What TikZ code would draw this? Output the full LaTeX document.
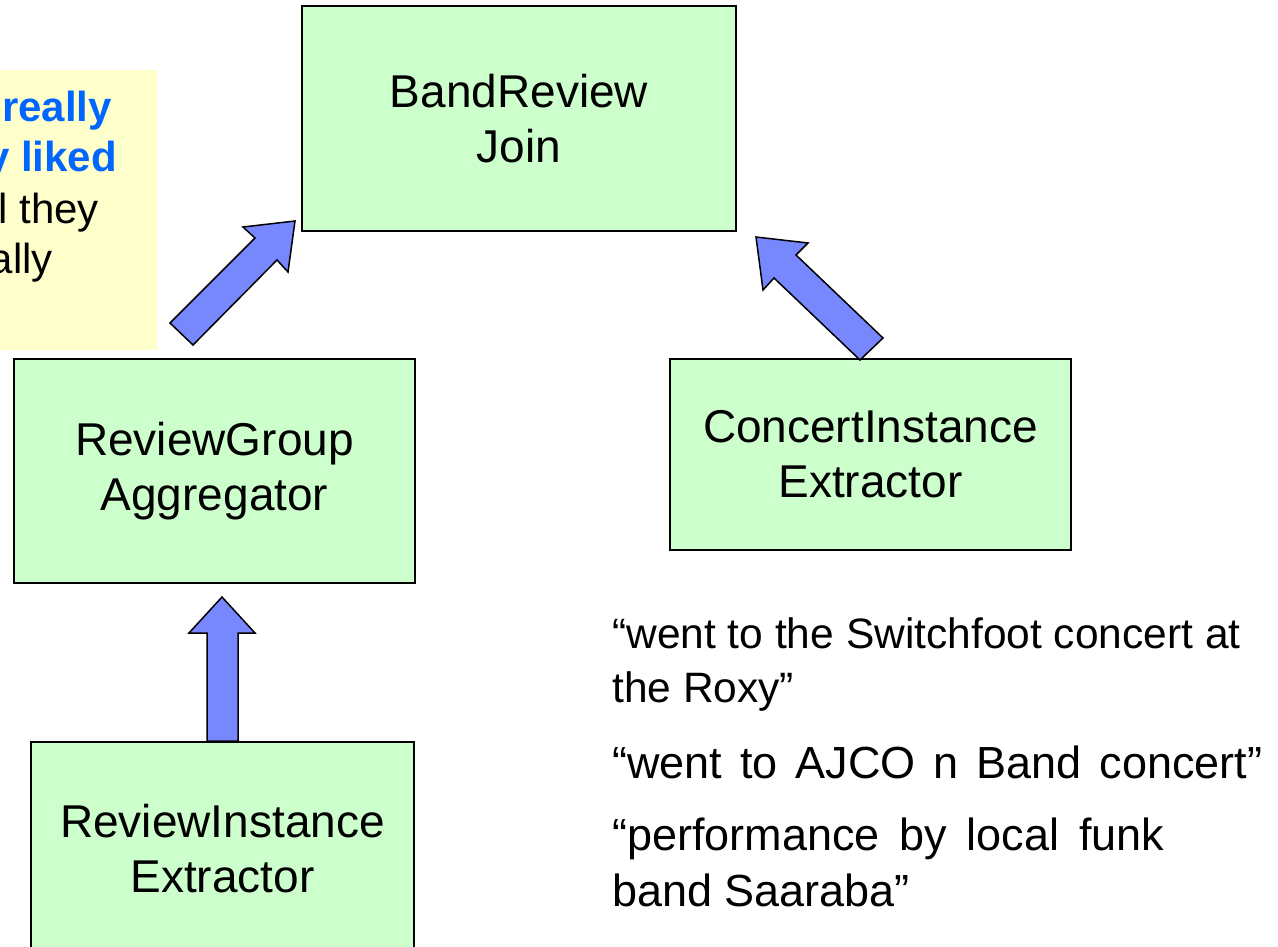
\documentclass[tikz,border=0pt]{standalone}
\usepackage{fontspec}
\setmainfont{Liberation Sans}
\definecolor{boxgreen}{HTML}{CCFFCC}
\definecolor{notey}{HTML}{FFFFCC}
\definecolor{arrowblue}{HTML}{7788FF}
\definecolor{textblue}{HTML}{0066FF}
\begin{document}
\begin{tikzpicture}[x=1pt,y=-1pt,
  box/.style={draw=black,line width=2pt,fill=boxgreen,anchor=north west,align=center,
    font=\fontsize{46}{55}\selectfont,inner sep=0pt},
  blockarrow/.style={draw=black,line width=1.5pt,fill=arrowblue,line join=miter},
  notebold/.style={anchor=base east,font=\bfseries\fontsize{42}{50}\selectfont,text=textblue,inner sep=0pt},
  noteplain/.style={anchor=base east,font=\fontsize{42}{50}\selectfont,inner sep=0pt},
  quote/.style={anchor=base west,font=\fontsize{42.5}{54}\selectfont,inner sep=0pt},
  quotebig/.style={anchor=base west,font=\fontsize{45}{56}\selectfont,inner sep=0pt}]
\useasboundingbox (0,0) rectangle (1278,947);
% note box
\begin{scope}
\clip (0,70) rectangle (157,350);
\fill[notey] (0,70) rectangle (157,350);
\node[notebold] (n1) at (112,122) {really};
\node[notebold] (n2) at (117,172) {y liked};
\node[noteplain] (n3) at (99,223) {l they};
\node[noteplain] (n4) at (53,273) {ally};
\end{scope}
% boxes
\node[box,minimum width=434pt,minimum height=225pt] (join) at (301,5) {BandReview\\Join};
\node[box,minimum width=401pt,minimum height=224pt] (agg) at (13,358) {ReviewGroup\\Aggregator};
\node[box,minimum width=401pt,minimum height=191pt] (cie) at (669,358) {ConcertInstance\\Extractor};
\node[box,minimum width=383pt,minimum height=214pt] (rie) at (30,741) {ReviewInstance\\Extractor};
% block arrows
\draw[blockarrow] (170,323) -- (255,238) -- (243,227) -- (295,221) -- (288,272) -- (277,260) -- (193,345) -- cycle;
\draw[blockarrow] (883,338) -- (796,255) -- (808,243) -- (756,237) -- (763,290) -- (774,278) -- (860,360) -- cycle;
\draw[blockarrow] (207,741) -- (207,633) -- (189,633) -- (222,597) -- (255,633) -- (238,633) -- (238,741) -- cycle;
% quotes
\node[quote] (q1a) at (612,648) {“went to the Switchfoot concert at};
\node[quote] (q1b) at (612,702) {the Roxy”};
\node[quotebig] (q2) at (612,778) {\makebox[650pt][s]{“went to AJCO n Band concert”}};
\node[quotebig] (q3a) at (612,850) {\makebox[552pt][s]{“performance by local funk}};
\node[quotebig] (q3b) at (612,906) {band Saaraba”};
\end{tikzpicture}
\end{document}
